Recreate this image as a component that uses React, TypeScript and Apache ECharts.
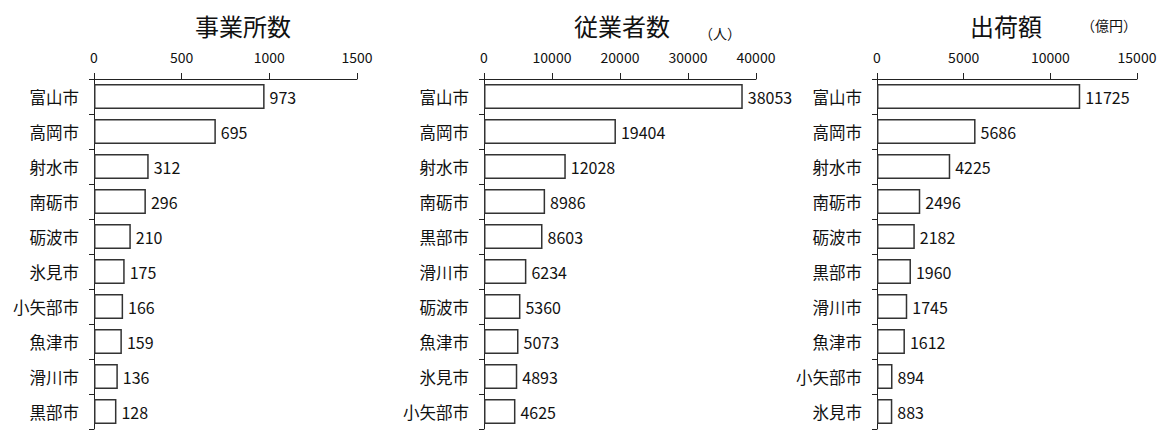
import React, { useEffect, useRef } from "react";
import * as echarts from "echarts";

const titles = ["事業所数", "従業者数", "出荷額"];
const units = ["", "（人）", "（億円）"];

const cities1 = ["富山市", "高岡市", "射水市", "南砺市", "砺波市", "氷見市", "小矢部市", "魚津市", "滑川市", "黒部市"];
const values1 = [973, 695, 312, 296, 210, 175, 166, 159, 136, 128];

const cities2 = ["富山市", "高岡市", "射水市", "南砺市", "黒部市", "滑川市", "砺波市", "魚津市", "氷見市", "小矢部市"];
const values2 = [38053, 19404, 12028, 8986, 8603, 6234, 5360, 5073, 4893, 4625];

const cities3 = ["富山市", "高岡市", "射水市", "南砺市", "砺波市", "黒部市", "滑川市", "魚津市", "小矢部市", "氷見市"];
const values3 = [11725, 5686, 4225, 2496, 2182, 1960, 1745, 1612, 894, 883];

const axisMax = [1500, 40000, 15000];
const axisInterval = [500, 10000, 5000];

const FONT = "'Noto Sans CJK JP', 'Noto Sans', sans-serif";
const INK = "#111";

export default function App() {
  const ref = useRef<HTMLDivElement>(null);

  useEffect(() => {
    if (!ref.current) return;
    const chart = echarts.init(ref.current, undefined, { renderer: "svg" });

    const grids = [
      { left: 94, top: 79, width: 263, height: 350 },
      { left: 484, top: 79, width: 272, height: 350 },
      { left: 877, top: 79, width: 260, height: 350 },
    ];
    const cats = [cities1, cities2, cities3];
    const vals = [values1, values2, values3];

    const titleCenters = [243, 622, 1006];
    const unitPos = [
      { x: 0, y: 0 },
      { x: 720, y: 33 },
      { x: 1109, y: 25 },
    ];

    const graphic: any[] = [];
    titles.forEach((t, i) => {
      graphic.push({
        type: "text",
        x: titleCenters[i],
        y: 25,
        style: {
          text: t,
          font: `24px ${FONT}`,
          fill: INK,
          align: "center",
          verticalAlign: "middle",
        },
      });
      if (units[i]) {
        graphic.push({
          type: "text",
          x: unitPos[i].x,
          y: unitPos[i].y,
          style: {
            text: units[i],
            font: `14px ${FONT}`,
            fill: INK,
            align: "center",
            verticalAlign: "middle",
          },
        });
      }
    });

    const option: any = {
      animation: false,
      backgroundColor: "#fff",
      textStyle: { fontFamily: FONT },
      grid: grids.map((g) => ({ ...g, containLabel: false })),
      xAxis: grids.map((_, i) => ({
        type: "value",
        gridIndex: i,
        position: "top",
        min: 0,
        max: axisMax[i],
        interval: axisInterval[i],
        axisLine: { show: true, lineStyle: { color: "#222", width: 1 } },
        axisTick: { show: true, length: 6, lineStyle: { color: "#222" } },
        axisLabel: {
          fontSize: 14,
          color: INK,
          margin: 15,
          fontFamily: FONT,
          formatter: (v: number) => String(v),
        },
        splitLine: { show: false },
      })),
      yAxis: grids.map((_, i) => ({
        type: "category",
        gridIndex: i,
        inverse: true,
        data: cats[i],
        boundaryGap: true,
        axisLine: { show: true, lineStyle: { color: "#222", width: 1 } },
        axisTick: { show: true, length: 5, lineStyle: { color: "#222" } },
        axisLabel: { fontSize: 16.5, color: INK, margin: 15, fontFamily: FONT },
        splitLine: { show: false },
      })),
      series: grids.map((_, i) => ({
        type: "bar",
        xAxisIndex: i,
        yAxisIndex: i,
        data: vals[i],
        barWidth: 25,
        itemStyle: { color: "#fff", borderColor: "#333", borderWidth: 1.5 },
        label: {
          show: true,
          position: "right",
          distance: 5,
          fontSize: 16,
          color: INK,
          fontFamily: FONT,
        },
      })),
      graphic,
    };

    chart.setOption(option);
    return () => chart.dispose();
  }, []);

  return (
    <div
      ref={ref}
      style={{ position: "fixed", left: 0, top: 0, width: 1166, height: 433, background: "#fff" }}
    />
  );
}
